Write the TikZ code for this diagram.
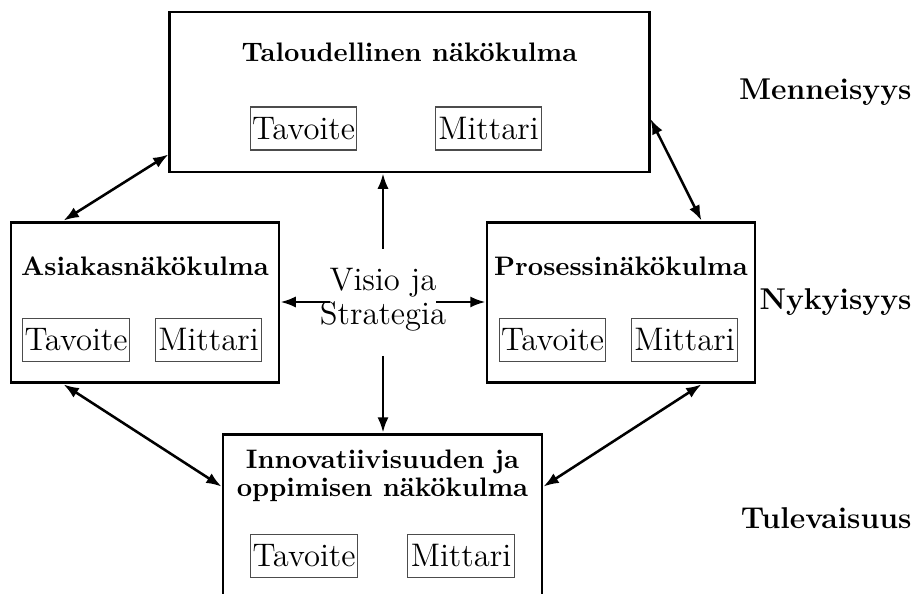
\documentclass[tikz,border=0pt]{standalone}
\usepackage{fontspec}
\usetikzlibrary{arrows.meta,calc}
\begin{document}
\begin{tikzpicture}[x=0.3922pt,y=-0.3922pt,
  mainbox/.style={draw,line width=1.15pt,inner sep=0pt},
  titletext/.style={font=\fontsize{10.5}{11}\selectfont\bfseries,inner sep=0pt,align=center},
  goal/.style={draw=black!70,line width=0.45pt,minimum width=41.8pt,minimum height=16.9pt,inner sep=0.3pt,font=\fontsize{12.8}{14}\selectfont},
  era/.style={font=\fontsize{11.8}{13}\selectfont\bfseries,inner sep=0pt,anchor=east},
  tip/.tip={Latex[length=6pt,width=4.4pt]},
  link/.style={tip-tip,line width=1pt},
  flow/.style={-tip,line width=1pt}]
\useasboundingbox (0,0) rectangle (914,594);
\clip (0,0) rectangle (914,594);
% main boxes
\node[mainbox,minimum width=187.9pt,minimum height=62.75pt] (top) at (409.5,92) {};
\node[mainbox,minimum width=105.1pt,minimum height=63.1pt] (left) at (145,302.5) {};
\node[mainbox,minimum width=105.1pt,minimum height=63.1pt] (right) at (621,302.5) {};
\node[mainbox,minimum width=125.1pt,minimum height=78.4pt] (bot) at (382.5,534) {};
% titles
\node[titletext] (ttop) at (409.5,52) {Taloudellinen näkökulma};
\node[titletext] (tleft) at (145,266) {Asiakasnäkökulma};
\node[titletext] (tright) at (621,266) {Prosessinäkökulma};
\node[titletext] (tbot) at (382.5,476) {Innovatiivisuuden ja\\oppimisen näkökulma};
% goals
\node[goal] (g1) at (303.5,128.5) {Tavoite};
\node[goal] (m1) at (488.5,128.5) {Mittari};
\node[goal] (g2) at (76,340) {Tavoite};
\node[goal] (m2) at (208.5,340) {Mittari};
\node[goal] (g3) at (552.5,340) {Tavoite};
\node[goal] (m3) at (684.5,340) {Mittari};
\node[goal] (g4) at (304,556) {Tavoite};
\node[goal] (m4) at (461,556) {Mittari};
% centre
\node[inner sep=0pt,align=center,font=\fontsize{12.8}{13.2}\selectfont] (vis) at (383,300) {Visio ja\\Strategia};
\coordinate (vup) at (383,249);
\coordinate (vdown) at (383,356);
\coordinate (vleft) at (330,302);
\coordinate (vright) at (436,302);
\draw[flow] (vup) -- (vup |- top.south);
\draw[flow] (vdown) -- (vdown |- bot.north);
\draw[flow] (vleft) -- (left.east |- vleft);
\draw[flow] (vright) -- (right.west |- vright);
% era labels
\node[era] (past) at (912,92) {Menneisyys};
\node[era] (now) at (912,302) {Nykyisyys};
\node[era] (future) at (912,518) {Tulevaisuus};
% links
\draw[link] ($(top.south west)+(0,-19)$) -- ($(left.north west)+(54,0)$);
\draw[link] ($(top.east)+(0,27)$) -- ($(right.north east)+(-55,0)$);
\draw[link] ($(left.south west)+(54,0)$) -- ($(bot.north west)+(0,54)$);
\draw[link] ($(right.south east)+(-55,0)$) -- ($(bot.north east)+(0,54)$);
\end{tikzpicture}
\end{document}
